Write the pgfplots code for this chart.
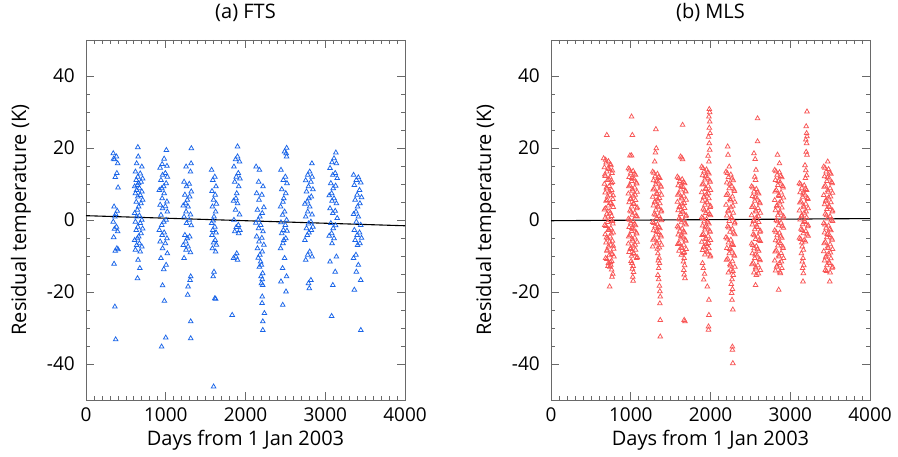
\documentclass[border=0pt]{standalone}
\usepackage{pgfplots}
\pgfplotsset{compat=1.18}
\usepackage{fontspec}
\setmainfont{Open Sans}

\definecolor{ftsblue}{RGB}{25,100,232}
\definecolor{mlsred}{RGB}{248,85,85}
\definecolor{framegray}{RGB}{105,105,105}

\newcommand{\lblfont}{\fontsize{20}{24}\selectfont}
\newcommand{\tickfont}{\fontsize{19}{22}\selectfont}

\pgfplotsset{
  residual/.style={
    width=319pt, height=360pt, scale only axis,
    xmin=0, xmax=4000, ymin=-50, ymax=50,
    xtick={0,1000,2000,3000,4000},
    ytick={-40,-20,0,20,40},
    minor x tick num=9, minor y tick num=3,
    tick align=inside,
    major tick length=8pt, minor tick length=4pt,
    axis line style={framegray, line width=0.8pt},
    every tick/.style={framegray, line width=0.7pt},
    /pgf/number format/assume math mode=true,
    /pgf/number format/1000 sep={},
    tick label style={font=\tickfont, inner sep=0pt},
    xticklabel style={anchor=north, yshift=-8pt},
    yticklabel style={anchor=east, xshift=-11pt},
    label style={font=\lblfont, inner sep=0pt},
    xlabel={Days from 1 Jan 2003},
    ylabel={Residual temperature (K)},
    xlabel style={at={(axis description cs:0.5,0)}, anchor=north, yshift=-30pt},
    ylabel style={at={(axis description cs:-0.204,0.5)}, anchor=center},
    title style={font=\lblfont, inner sep=0pt, at={(0.5,1)}, anchor=south, yshift=12pt},
    clip=false,
  },
  pts/.style={only marks, mark=triangle, mark size=2.7pt,
    mark options={line width=0.75pt, fill=none}},
}

\begin{document}
\begin{tikzpicture}
\useasboundingbox (0,0) rectangle (898pt,456pt);

% ---------------- (a) FTS ----------------
\begin{axis}[residual, at={(86pt,56pt)}, anchor=south west, title={(a) FTS}]
\addplot[pts, color=ftsblue] coordinates {
(342,18.5)(382,17.6)(357,16.8)(397,15.7)(347,17.0)(387,13.0)(367,11.9)(402,9.0)(352,3.7)(392,2.5)(372,1.6)(362,0.9)
(342,-0.5)(382,-1.9)(357,-2.5)(397,-3.2)(347,-4.8)(387,-7.9)(367,-8.6)(402,-8.2)(352,-12.2)(362,-24.1)(372,-33.2)
(650,20.2)(655,17.6)(635,15.7)(700,14.8)(620,13.4)(680,12.9)(650,12.0)(710,11.5)(630,11.1)(690,10.6)(660,10.2)(645,9.7)
(610,9.3)(670,8.8)(635,8.3)(700,7.9)(620,7.4)(680,6.9)(650,6.5)(710,5.6)(630,5.0)(690,4.6)(660,3.7)(645,2.8)
(610,1.9)(670,1.2)(635,0.9)(700,0)(620,-0.5)(680,-0.9)(650,-1.9)(710,-2.4)(630,-2.8)(690,-3.7)(660,-4.6)(645,-5.1)
(610,-5.6)(670,-6.5)(635,-7.0)(700,-7.4)(620,-8.3)(680,-8.8)(653,-11.1)(675,-13.4)(646,-16.2)
(1008,19.4)(980,17.0)(955,15.5)(1015,15.0)(930,14.5)(995,13.0)(960,12.5)(1020,12.0)(940,11.1)(1005,10.2)(975,9.3)(950,8.8)
(920,8.3)(980,7.4)(955,6.0)(1015,5.1)(930,4.2)(995,3.8)(960,3.2)(1020,2.3)(940,1.4)(1005,0)(975,-0.5)(950,-1.4)
(920,-2.8)(980,-3.5)(955,-4.2)(1015,-5.1)(930,-6.0)(995,-6.5)(960,-7.9)(1020,-9.3)(940,-10.6)(1005,-12.5)(975,-13.7)(960,-18.2)
(983,-22.5)(1000,-32.7)(948,-35.2)
(1321,19.9)(1318,15.7)(1255,14.8)(1310,13.4)(1230,10.6)(1295,10.0)(1260,9.3)(1320,7.9)(1240,7.0)(1300,6.5)(1270,5.6)(1250,4.6)
(1220,4.0)(1280,3.7)(1255,2.3)(1310,1.5)(1230,0.9)(1295,0)(1260,-0.9)(1320,-1.5)(1240,-4.2)(1300,-4.6)(1270,-5.1)(1250,-6.0)
(1220,-7.0)(1280,-7.4)(1255,-8.3)(1310,-9.0)(1230,-10.6)(1313,-15.7)(1305,-16.7)(1280,-18.5)(1275,-20.8)(1313,-28.2)(1313,-32.9)
(1575,13.9)(1615,12.0)(1590,11.1)(1630,9.3)(1580,8.0)(1620,7.0)(1600,5.6)(1635,4.5)(1585,3.7)(1625,2.3)(1605,0.9)(1595,-0.2)
(1575,-0.9)(1615,-1.9)(1590,-2.8)(1630,-3.5)(1580,-4.2)(1620,-5.6)(1600,-6.3)(1635,-6.9)(1585,-7.9)(1625,-8.8)(1605,-14.4)(1595,-15.7)
(1615,-21.8)(1625,-21.9)(1600,-46.3)
(1900,20.4)(1900,17.6)(1875,16.8)(1925,16.2)(1855,14.8)(1910,13.0)(1885,12.0)(1930,11.5)(1865,10.6)(1915,9.3)(1890,7.4)(1880,6.0)
(1850,5.3)(1900,4.6)(1875,2.8)(1925,1.5)(1855,0)(1910,-1.4)(1885,-2.0)(1930,-2.8)(1865,-3.2)(1915,-3.7)(1890,-9.3)(1880,-10.2)
(1850,-10.6)(1900,-11.1)(1833,-26.4)
(2133,14.8)(2175,13.9)(2165,10.6)(2220,9.3)(2140,7.4)(2205,7.0)(2170,5.6)(2230,3.5)(2150,2.8)(2210,1.9)(2180,0.9)(2160,0)
(2130,-0.8)(2190,-1.4)(2165,-2.3)(2220,-3.2)(2140,-4.6)(2205,-5.0)(2170,-6.0)(2230,-6.9)(2150,-7.9)(2210,-8.8)(2180,-9.7)(2160,-10.5)
(2190,-11.6)(2200,-12.5)(2175,-13.0)(2215,-14.8)(2195,-15.7)(2210,-16.5)(2200,-17.6)(2215,-18.1)(2210,-21.3)(2208,-23.1)(2237,-25.9)(2217,-28.2)
(2217,-30.6)
(2516,20.0)(2490,19.0)(2510,18.5)(2515,17.6)(2445,13.9)(2500,12.0)(2475,11.1)(2520,10.2)(2455,8.5)(2505,7.4)(2480,6.0)(2470,5.0)
(2440,3.7)(2490,2.3)(2465,1.4)(2515,0)(2445,-0.7)(2500,-1.4)(2475,-2.8)(2520,-3.0)(2455,-3.7)(2505,-5.1)(2480,-5.6)(2470,-6.5)
(2440,-7.9)(2490,-10.6)(2465,-13.4)(2515,-15.7)(2445,-17.1)(2508,-19.9)(2467,-23.6)
(2833,15.7)(2805,13.4)(2780,12.5)(2835,12.0)(2755,11.0)(2820,10.6)(2790,9.3)(2845,8.5)(2765,7.9)(2825,6.5)(2795,6.0)(2775,5.1)
(2745,4.5)(2805,3.7)(2780,2.3)(2835,1.5)(2755,0.9)(2820,-0.5)(2790,-1.0)(2845,-1.9)(2765,-2.3)(2825,-2.8)(2795,-3.5)(2775,-4.2)
(2745,-5.6)(2805,-8.8)(2780,-9.7)(2835,-10.2)(2755,-11.1)(2820,-16.7)(2790,-17.6)(2800,-19.0)
(3133,18.7)(3110,17.1)(3085,16.0)(3140,15.7)(3060,14.4)(3125,13.0)(3095,12.5)(3150,11.6)(3070,10.2)(3130,9.5)(3100,8.8)(3080,7.4)
(3050,6.8)(3110,6.0)(3085,5.3)(3140,4.6)(3060,3.2)(3125,2.5)(3095,1.9)(3150,0.5)(3070,-0.9)(3130,-1.5)(3100,-2.3)(3080,-3.7)
(3050,-4.4)(3110,-5.1)(3085,-6.5)(3140,-10.2)(3060,-11.6)(3125,-14.4)(3095,-18.1)(3080,-26.7)
(3355,12.5)(3415,11.8)(3390,11.1)(3445,10.4)(3365,9.7)(3430,8.3)(3400,7.0)(3455,6.3)(3375,5.6)(3435,4.6)(3405,3.7)(3385,2.3)
(3355,1.6)(3415,0.9)(3390,-0.5)(3445,-1.4)(3365,-2.8)(3430,-3.5)(3400,-4.2)(3455,-5.0)(3375,-5.6)(3435,-6.5)(3405,-7.0)(3385,-9.7)
(3355,-10.6)(3415,-12.5)(3390,-14.4)(3445,-16.7)(3365,-19.4)(3446,-30.6)
};
% linear trend
\addplot[black, line width=1.1pt] coordinates {(0,1.2) (4000,-1.6)};
\end{axis}

% ---------------- (b) MLS ----------------
\begin{axis}[residual, at={(551pt,56pt)}, anchor=south west, title={(b) MLS}]
\addplot[pts, color=mlsred] coordinates {
(700,23.6)
(660,17.1)(720,16.3)(690,15.9)(750,15.2)(670,14.6)(730,14.1)(700,13.4)(765,13.0)(680,12.2)(740,11.8)(710,11.1)(770,10.5)
(670,10.0)(730,9.4)(700,8.7)(760,8.3)(680,7.6)(740,7.0)(710,6.5)(775,5.8)(690,5.3)(750,4.7)(720,4.0)(780,3.6)
(670,2.9)(730,2.4)(700,1.7)(760,1.1)(680,0.6)(740,0.0)(710,-0.6)(775,-1.0)(690,-1.7)(750,-2.3)(720,-2.8)(780,-3.5)
(680,-4.0)(740,-4.6)(710,-5.1)(770,-5.8)(690,-6.3)(750,-6.9)(720,-7.4)(785,-8.0)(700,-8.6)(760,-9.1)(730,-9.8)(790,-10.2)
(700,-10.9)(760,-11.4)(720,-12.0)(750,-12.5)(740,-13.0)
(760,-13.8)(775,-15.0)(765,-15.8)(735,-18.5)
(685,16.7)(745,15.5)(715,14.3)(770,13.7)(675,12.6)(725,11.4)(755,10.2)(695,9.0)(735,7.9)(780,6.8)(705,5.5)(765,4.3)
(685,3.2)(745,2.0)(715,0.9)(770,-0.3)(675,-1.4)(725,-2.6)(755,-3.8)(695,-4.9)(735,-6.0)(780,-7.2)(705,-8.3)(765,-9.5)
(685,-10.6)(745,-11.7)(715,-12.8)
(1010,28.7)(1020,23.6)(990,17.9)(1010,17.9)
(970,14.3)(1030,13.6)(1000,13.1)(1060,12.5)(980,11.9)(1040,11.4)(1010,10.8)(1075,10.1)(990,9.6)(1050,9.0)(1020,8.5)(1080,7.8)
(970,7.3)(1030,6.7)(1000,6.0)(1060,5.5)(980,4.9)(1040,4.4)(1010,3.7)(1075,3.2)(990,2.6)(1050,2.0)(1020,1.4)(1080,0.9)
(970,0.3)(1030,-0.3)(1000,-0.8)(1060,-1.5)(980,-2.0)(1040,-2.6)(1010,-3.1)(1075,-3.8)(990,-4.3)(1050,-4.9)(1020,-5.4)(1080,-6.1)
(970,-6.6)(1030,-7.2)(1000,-7.8)(1060,-8.3)(980,-8.9)(1040,-9.4)(1010,-10.0)(1075,-10.6)
(1015,-12.0)(1030,-12.8)(1020,-13.6)(1035,-14.5)(1025,-15.8)(1030,-16.9)
(985,14.0)(1045,12.8)(1015,11.6)(1070,10.4)(975,9.3)(1025,8.1)(1055,7.0)(995,5.8)(1035,4.6)(1080,3.5)(1005,2.3)(1065,1.1)
(985,0.0)(1045,-1.2)(1015,-2.3)(1070,-3.5)(975,-4.6)(1025,-5.8)(1055,-6.9)(995,-8.1)(1035,-9.2)(1080,-10.3)(1005,-11.4)
(1315,25.2)(1320,19.9)(1310,18.7)(1300,16.2)
(1275,13.4)(1335,12.8)(1305,12.1)(1365,11.6)(1285,11.0)(1345,10.4)(1315,9.9)(1380,9.2)(1295,8.7)(1355,8.1)(1325,7.5)(1385,7.0)
(1275,6.4)(1335,5.7)(1305,5.2)(1365,4.6)(1285,4.0)(1345,3.5)(1315,2.8)(1380,2.3)(1295,1.7)(1355,1.1)(1325,0.6)(1385,-0.1)
(1275,-0.6)(1335,-1.2)(1305,-1.8)(1365,-2.3)(1285,-2.9)(1345,-3.4)(1315,-4.1)(1380,-4.6)(1295,-5.2)(1355,-5.7)(1325,-6.3)(1385,-6.9)
(1275,-7.4)(1335,-8.0)
(1340,-9.3)(1355,-10.5)(1345,-11.3)(1360,-12.0)(1350,-13.4)(1340,-15.3)(1350,-16.5)(1360,-18.3)(1365,-19.8)(1370,-21.3)(1365,-23.2)(1370,-27.8)(1370,-32.4)
(1290,13.1)(1350,11.9)(1320,10.7)(1375,9.5)(1280,8.4)(1330,7.2)(1360,6.1)(1300,4.9)(1340,3.8)(1385,2.6)(1310,1.4)(1370,0.3)
(1290,-0.9)(1350,-2.0)(1320,-3.2)(1375,-4.3)(1280,-5.5)(1330,-6.6)(1360,-7.7)
(1650,26.4)(1625,17.6)(1640,17.3)(1650,16.8)
(1585,12.0)(1645,11.3)(1615,10.8)(1675,10.2)(1595,9.6)(1655,9.1)(1625,8.4)(1690,7.9)(1605,7.3)(1665,6.7)(1635,6.2)(1695,5.6)
(1585,5.0)(1645,4.5)(1615,3.8)(1675,3.3)(1595,2.7)(1655,2.1)(1625,1.6)(1690,1.0)(1605,0.4)(1665,-0.1)(1635,-0.7)(1695,-1.3)
(1585,-1.8)(1645,-2.4)(1615,-3.0)(1675,-3.5)(1595,-4.1)(1655,-4.7)(1625,-5.2)(1690,-5.8)(1605,-6.4)(1665,-6.9)(1635,-7.5)(1695,-8.1)
(1605,-8.6)(1665,-9.2)(1635,-9.7)
(1670,-10.6)(1660,-11.6)(1675,-12.6)(1665,-13.9)(1670,-15.2)(1680,-16.2)(1670,-27.8)(1680,-28.2)
(1600,11.6)(1660,10.5)(1630,9.3)(1685,8.1)(1590,7.0)(1640,5.9)(1670,4.7)(1610,3.6)(1650,2.4)(1695,1.3)(1620,0.1)(1680,-1.0)
(1600,-2.1)(1660,-3.3)(1630,-4.4)(1685,-5.5)(1590,-6.7)(1640,-7.8)(1670,-8.9)
(1985,30.8)(1990,29.9)(1980,28.7)(1990,27.3)(1985,25.6)(1995,24.1)(1975,23.1)(1985,21.3)(1990,19.5)(1970,17.8)(1980,16.2)
(1890,14.8)(1950,14.0)(1920,13.5)(1980,12.9)(1900,12.4)(1960,11.7)(1930,11.2)(1995,10.6)(1910,10.0)(1970,9.5)(1940,8.8)(2000,8.3)
(1890,7.7)(1950,7.1)(1920,6.5)(1980,6.0)(1900,5.3)(1960,4.8)(1930,4.2)(1995,3.6)(1910,3.1)(1970,2.4)(1940,1.9)(2000,1.3)
(1890,0.7)(1950,0.2)(1920,-0.4)(1980,-1.0)(1900,-1.6)(1960,-2.1)(1930,-2.7)(1995,-3.3)(1910,-3.9)(1970,-4.4)(1940,-5.0)(2000,-5.6)
(1890,-6.1)(1950,-6.7)(1920,-7.3)(1980,-7.9)(1900,-8.4)(1960,-9.0)(1930,-9.6)(1995,-10.2)
(1900,-12.0)(1910,-13.4)(1925,-15.0)(1915,-16.6)(1960,-18.5)(1980,-22.2)(1980,-26.4)(1975,-29.6)(1975,-30.5)
(1905,14.4)(1965,13.2)(1935,12.1)(1990,10.9)(1895,9.8)(1945,8.6)(1975,7.4)(1915,6.3)(1955,5.0)(2000,3.9)(1925,2.7)(1985,1.6)
(1905,0.5)(1965,-0.7)(1935,-1.9)(1990,-3.0)(1895,-4.2)(1945,-5.3)(1975,-6.4)(1915,-7.6)(1955,-8.7)(2000,-9.9)
(2215,20.4)(2220,18.1)(2235,14.8)
(2195,13.4)(2255,12.6)(2225,11.9)(2285,11.0)(2205,10.4)(2265,9.5)(2235,8.8)(2300,8.0)(2215,7.3)(2275,6.5)(2245,5.8)(2305,5.0)
(2195,4.2)(2255,3.5)(2225,2.7)(2285,2.0)(2205,1.2)(2265,0.5)(2235,-0.3)(2300,-1.0)(2215,-1.8)(2275,-2.5)(2245,-3.3)(2305,-4.0)
(2195,-4.8)(2255,-5.5)(2225,-6.3)(2285,-7.0)(2205,-7.8)(2265,-8.5)(2235,-9.3)(2300,-10.0)(2215,-10.8)(2275,-11.5)(2245,-12.3)(2305,-13.0)
(2255,-13.8)(2225,-14.6)(2285,-15.3)
(2270,-16.5)(2260,-17.8)(2275,-19.2)(2265,-20.3)(2270,-22.2)(2280,-24.9)(2275,-35.2)(2275,-36.1)(2280,-39.8)
(2210,13.0)(2270,11.5)(2240,10.0)(2295,8.4)(2200,6.9)(2250,5.4)(2280,3.9)(2220,2.4)(2260,0.8)(2305,-0.7)(2230,-2.1)(2290,-3.6)
(2210,-5.2)(2270,-6.7)(2240,-8.1)(2295,-9.7)(2200,-11.1)(2250,-12.7)(2280,-14.2)
(2590,28.2)(2590,21.8)(2545,18.5)(2560,16.9)(2570,13.9)(2555,12.0)(2565,11.1)
(2515,9.3)(2575,8.6)(2545,7.9)(2605,7.3)(2525,6.6)(2585,5.9)(2555,5.3)(2620,4.6)(2535,4.0)(2595,3.3)(2565,2.6)(2625,2.0)
(2515,1.3)(2575,0.7)(2545,0.0)(2605,-0.6)(2525,-1.3)(2585,-2.0)(2555,-2.6)(2620,-3.3)(2535,-4.0)(2595,-4.6)(2565,-5.3)(2625,-5.9)
(2515,-6.6)(2575,-7.3)(2545,-7.9)(2605,-8.6)(2525,-9.3)(2585,-9.9)(2555,-10.6)(2620,-11.2)(2535,-11.9)(2595,-12.6)(2565,-13.2)(2625,-13.9)
(2545,-14.6)(2575,-15.3)(2565,-18.1)
(2530,9.0)(2590,7.6)(2560,6.3)(2615,4.9)(2520,3.6)(2570,2.3)(2600,1.0)(2540,-0.3)(2580,-1.6)(2625,-3.0)(2550,-4.3)(2610,-5.6)
(2530,-7.0)(2590,-8.2)(2560,-9.6)(2615,-10.9)(2520,-12.3)(2570,-13.5)(2600,-14.9)
(2840,18.1)(2865,15.7)
(2805,13.9)(2865,13.2)(2835,12.5)(2895,11.8)(2815,11.1)(2875,10.4)(2845,9.7)(2910,9.0)(2825,8.3)(2885,7.6)(2855,6.9)(2915,6.2)
(2805,5.5)(2865,4.8)(2835,4.1)(2895,3.4)(2815,2.7)(2875,2.0)(2845,1.3)(2910,0.6)(2825,-0.1)(2885,-0.8)(2855,-1.5)(2915,-2.2)
(2805,-2.9)(2865,-3.6)(2835,-4.3)(2895,-5.0)(2815,-5.7)(2875,-6.4)(2845,-7.1)(2910,-7.8)(2825,-8.5)(2885,-9.2)(2855,-9.9)(2915,-10.6)
(2805,-11.3)(2865,-12.0)(2835,-12.7)(2895,-13.4)(2815,-14.1)(2875,-14.8)(2855,-19.4)
(2820,13.5)(2880,12.2)(2850,10.8)(2905,9.4)(2810,7.9)(2860,6.6)(2890,5.2)(2830,3.8)(2870,2.3)(2915,1.0)(2840,-0.4)(2900,-1.8)
(2820,-3.3)(2880,-4.6)(2850,-6.0)(2905,-7.4)(2810,-8.8)(2860,-10.2)(2890,-11.6)(2830,-13.0)(2870,-14.4)
(3210,30.1)(3200,26.0)(3205,24.1)(3210,23.2)(3195,22.3)(3205,21.3)(3200,18.9)(3210,18.1)(3185,15.2)(3195,13.8)(3205,12.4)(3190,11.6)
(3115,10.2)(3175,9.6)(3145,8.9)(3205,8.3)(3125,7.7)(3185,7.0)(3155,6.4)(3220,5.8)(3135,5.1)(3195,4.5)(3165,3.9)(3225,3.2)
(3115,2.6)(3175,2.0)(3145,1.3)(3205,0.7)(3125,0.1)(3185,-0.6)(3155,-1.2)(3220,-1.8)(3135,-2.5)(3195,-3.1)(3165,-3.7)(3225,-4.4)
(3115,-5.0)(3175,-5.6)(3145,-6.3)
(3150,-7.4)(3165,-8.3)(3140,-9.3)(3160,-10.6)(3150,-11.6)(3170,-12.6)(3155,-13.4)(3165,-14.8)(3160,-17.1)
(3130,9.9)(3190,8.6)(3160,7.3)(3215,6.1)(3120,4.8)(3170,3.5)(3200,2.3)(3140,1.0)(3180,-0.3)(3225,-1.5)(3150,-2.8)(3210,-4.1)
(3130,-5.3)(3190,-6.0)
(3470,16.2)
(3420,14.8)(3480,14.1)(3450,13.4)(3510,12.8)(3430,12.1)(3490,11.5)(3460,10.8)(3525,10.2)(3440,9.5)(3500,8.8)(3470,8.2)(3530,7.5)
(3420,6.9)(3480,6.2)(3450,5.6)(3510,4.9)(3430,4.3)(3490,3.6)(3460,3.0)(3525,2.3)(3440,1.7)(3500,1.0)(3470,0.4)(3530,-0.3)
(3420,-0.9)(3480,-1.6)(3450,-2.2)(3510,-2.9)(3430,-3.5)(3490,-4.2)(3460,-4.8)(3525,-5.5)(3440,-6.1)(3500,-6.8)(3470,-7.4)(3530,-8.1)
(3420,-8.7)(3480,-9.4)(3450,-10.0)(3510,-10.7)(3430,-11.3)(3490,-12.0)(3460,-12.6)(3525,-13.3)(3440,-13.9)(3500,-14.6)
(3495,-17.1)
(3435,14.5)(3495,13.1)(3465,11.8)(3520,10.5)(3425,9.2)(3475,7.8)(3505,6.5)(3445,5.2)(3485,3.9)(3530,2.6)(3455,1.3)(3515,0.0)
(3435,-1.3)(3495,-2.6)(3465,-3.9)(3520,-5.2)(3425,-6.5)(3475,-7.8)(3505,-9.1)(3445,-10.4)(3485,-11.6)(3530,-13.0)(3455,-14.2)
};
% linear trend
\addplot[black, line width=1.1pt] coordinates {(0,-0.2) (4000,0.4)};
\end{axis}
\end{tikzpicture}
\end{document}
